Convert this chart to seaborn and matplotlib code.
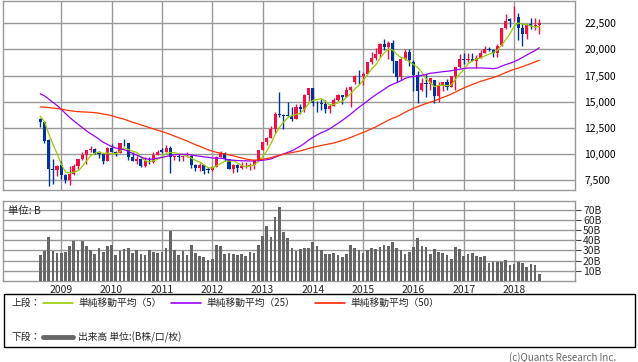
import numpy as np
import pandas as pd
import matplotlib
matplotlib.use("Agg")
import matplotlib.pyplot as plt
import seaborn as sns
from matplotlib.patches import Rectangle
from matplotlib.lines import Line2D

# 月足 2008/08 - 2018/07
months = pd.date_range("2008-08-01", "2018-07-01", freq="MS")

opens = [13376, 13073, 11368, 8576, 8512,
         8991, 7994, 7568, 8110, 8828, 9523, 9958, 10357, 10493, 10133, 10035, 9346,
         10546, 10198, 10126, 11090, 11057, 9768, 9383, 9537, 8824, 9369, 9202, 9937,
         10352, 10238, 10624, 9755, 9850, 9694, 9816, 9833, 8955, 8700, 8988, 8600,
         8455, 8803, 9723, 10084, 9521, 8543, 9007, 8695, 8840, 8870, 8928, 9446,
         10395, 11139, 11559, 12398, 13861, 13775, 13677, 13668, 13389, 14456, 14328, 15662,
         16291, 14915, 14841, 14828, 14304, 14632, 15162, 15621, 15425, 16174, 16860, 17460,
         17451, 17674, 18798, 19207, 19520, 20563, 20236, 20585, 18890, 17388, 19083, 19747,
         18818, 17518, 16100, 16759, 16666, 17060, 15576, 16569, 16887, 16450, 17425, 18308,
         19114, 19041, 19119, 18909, 19197, 19700, 20033, 19925, 19646, 20400, 22012, 22917,
         23073, 23098, 22068, 21454, 22468, 22202, 22305]
highs = [13460, 13134, 11456, 9504, 8979,
         9325, 8114, 8843, 9090, 9547, 10170, 10357, 10767, 10544, 10343, 10083, 10639,
         10982, 10271, 11097, 11408, 11057, 10239, 9797, 9642, 9701, 9691, 10162, 10370,
         10620, 10891, 10754, 9850, 10017, 9868, 10207, 9885, 9067, 9152, 8988, 8748,
         8867, 9866, 10255, 10190, 9540, 9045, 9075, 9222, 9288, 9179, 9458, 10433,
         11164, 11662, 12650, 13999, 15942, 13796, 14953, 14466, 14817, 14808, 15750, 16320,
         16321, 15094, 15312, 15164, 14744, 15376, 15759, 15621, 16374, 16533, 17520, 18030,
         17850, 18826, 19778, 20133, 20655, 20953, 20850, 20947, 18900, 19174, 20012, 20012,
         18951, 17905, 17291, 17613, 17251, 17100, 16938, 16919, 17159, 17425, 18308, 19592,
         19615, 19668, 19668, 19445, 19961, 20318, 20223, 20080, 20481, 22012, 23382, 23000,
         24129, 23486, 22502, 22467, 23050, 23011, 22949]
lows = [12635, 11036, 6995, 7163, 7864,
        7671, 7265, 7055, 8023, 8541, 9487, 9050, 10190, 9976, 9674, 9076, 9346,
        10157, 9868, 10126, 10808, 9460, 9379, 9091, 8807, 8796, 9027, 9123, 9932,
        10100, 10238, 8227, 9441, 9351, 9318, 9740, 8656, 8359, 8343, 8135, 8160,
        8349, 8803, 9723, 9346, 8542, 8238, 8328, 8612, 8670, 8488, 8619, 9396,
        10380, 10880, 11496, 12003, 13556, 12415, 13614, 13188, 13377, 13853, 13992, 15082,
        14617, 13995, 14203, 13885, 13964, 14632, 15067, 14753, 15425, 14529, 16720, 16672,
        16592, 17674, 18575, 19034, 19283, 19990, 19116, 17714, 16901, 17112, 19023, 18412,
        16017, 14865, 16000, 15471, 16106, 14864, 14937, 16004, 16153, 16449, 16111, 18237,
        18650, 18805, 18909, 18224, 19196, 19651, 19844, 19280, 19240, 20356, 21972, 22119,
        22764, 20950, 20347, 21031, 21931, 21824, 21462]
closes = [13073, 11260, 8577, 8512, 8860,
          7994, 7568, 8110, 8828, 9523, 9958, 10357, 10493, 10133, 10035, 9346, 10546,
          10198, 10126, 11090, 11057, 9768, 9383, 9537, 8824, 9369, 9202, 9937, 10229,
          10238, 10624, 9755, 9850, 9694, 9816, 9833, 8955, 8700, 8988, 8435, 8455,
          8803, 9723, 10084, 9521, 8543, 9007, 8695, 8840, 8870, 8928, 9446, 10395,
          11139, 11559, 12398, 13861, 13775, 13677, 13668, 13389, 14456, 14328, 15662, 16291,
          14915, 14841, 14828, 14304, 14632, 15162, 15621, 15425, 16174, 16414, 17460, 17451,
          17674, 18798, 19207, 19520, 20563, 20236, 20585, 18890, 17388, 19083, 19747, 19034,
          17518, 16027, 16759, 16666, 17235, 15576, 16569, 16887, 16450, 17425, 18308, 19114,
          19041, 19119, 18909, 19197, 19651, 20033, 19925, 19646, 20356, 22012, 22725, 22765,
          23098, 22068, 21454, 22468, 22202, 22305, 22554]
# 移動平均用の過去の終値 2004/07 - 2008/07
prior_closes = [11326, 11082, 10824, 10771, 11031, 11489,
                11388, 11740, 11669, 11009, 11277, 11584, 11900, 12414, 13574, 13607, 14872, 16111,
                16650, 16205, 17060, 16907, 15467, 15505, 15457, 16141, 16128, 16399, 16274, 17226,
                17383, 17604, 17288, 17400, 17876, 18138, 17249, 16569, 16786, 16738, 15681, 15308,
                13592, 13603, 12526, 13850, 14338, 13481, 13377]
# 出来高 (B株)
volumes = [25, 29, 43, 29, 27, 27, 28, 34, 39, 30, 39, 34, 30, 26, 32, 28, 34, 35, 25, 29,
           31, 32, 27, 30, 26, 25, 30, 28, 27, 28, 32, 49, 30, 25, 29, 25, 35, 27, 24, 23,
           21, 22, 35, 34, 26, 27, 26, 25, 26, 24, 28, 27, 35, 44, 54, 43, 63, 73, 48, 42,
           32, 29, 31, 32, 32, 38, 34, 30, 26, 26, 27, 25, 23, 26, 35, 32, 30, 27, 30, 32,
           31, 33, 35, 34, 38, 32, 30, 26, 28, 33, 42, 34, 33, 26, 31, 28, 27, 25, 22, 33,
           31, 24, 26, 27, 24, 23, 24, 18, 19, 19, 19, 21, 16, 17, 19, 18, 14, 17, 16, 7]

price_ticks = [7500, 10000, 12500, 15000, 17500, 20000, 22500]
vol_ticks = [10, 20, 30, 40, 50, 60, 70]
years = list(range(2009, 2019))

UP = "#EE1144"
DOWN = "#003399"
MA_COLORS = {5: "#99CC00", 25: "#9900FF", 50: "#FF3300"}
GRID = "#999999"

sns.set_style("white")
plt.rcParams["font.family"] = ["Noto Sans CJK JP", "DejaVu Sans"]

n = len(closes)
idx = np.arange(n)
df = pd.DataFrame({"i": idx, "open": opens, "high": highs, "low": lows,
                   "close": closes, "volume": volumes})
all_close = pd.Series(prior_closes + closes)
for w in (5, 25, 50):
    df[f"ma{w}"] = all_close.rolling(w).mean().iloc[-n:].values

W, H = 638, 362
fig = plt.figure(figsize=(W / 100, H / 100), dpi=100)
ax = fig.add_axes([3.3 / W, 1 - 190 / H, (574.7 - 3.3) / W, 189.5 / H])
axv = fig.add_axes([3.3 / W, 1 - 280.7 / H, (574.7 - 3.3) / W, 79.7 / H])

xlim = (-8.82, 127.45)
year_pos = [(y - 2008) * 12 - 7 for y in years]

# ローソク足
up = df["close"] >= df["open"]
for mask, col in ((up, UP), (~up, DOWN)):
    d = df[mask]
    ax.vlines(d["i"], d["low"], d["high"], color=col, lw=1, zorder=3)
    body = (d["close"] - d["open"]).abs().clip(lower=40)
    ax.bar(d["i"], body, bottom=d[["open", "close"]].min(axis=1), width=0.75,
           color=col, linewidth=0, zorder=4)

for w in (5, 25, 50):
    sns.lineplot(data=df, x="i", y=f"ma{w}", ax=ax, color=MA_COLORS[w], lw=0.9, zorder=5)

ax.set_xlim(*xlim)
ax.set_ylim(6574, 24678)
ax.set_xticks(year_pos)
ax.set_yticks(price_ticks)
ax.set_yticklabels([f"{v:,}" for v in price_ticks])
ax.yaxis.tick_right()
ax.tick_params(axis="y", length=0, pad=7, labelsize=7.5, labelcolor="black")
ax.tick_params(axis="x", length=0, labelbottom=False)
ax.grid(True, color=GRID, lw=1)
ax.set_xlabel("")
ax.set_ylabel("")
for s in ax.spines.values():
    s.set_color(GRID)
    s.set_linewidth(1)

# 出来高
sns.barplot(data=df, x="i", y="volume", ax=axv, native_scale=True, color="#666666",
            width=0.64, saturation=1, linewidth=0, zorder=3)
axv.set_xlim(*xlim)
axv.set_ylim(0, 79)
axv.set_xticks(year_pos)
axv.set_xticklabels([str(y) for y in years])
axv.set_yticks(vol_ticks)
axv.set_yticklabels([f"{v}B" for v in vol_ticks])
axv.yaxis.tick_right()
axv.tick_params(axis="y", length=4, width=0.8, color="#444444", pad=2, labelsize=7.5)
axv.tick_params(axis="x", length=0, pad=3, labelsize=7.5)
axv.grid(True, color=GRID, lw=1)
axv.set_xlabel("")
axv.set_ylabel("")
for s in axv.spines.values():
    s.set_color(GRID)
    s.set_linewidth(1)
axv.text(5 / 571.4, 0.88, "単位: B", transform=axv.transAxes, fontsize=7.5,
         ha="left", va="center", zorder=6)

# 凡例
fy = lambda p: 1 - p / H
fig.patches.append(Rectangle((3.5 / W, fy(346.5)), 631.5 / W, 52.5 / H, transform=fig.transFigure,
                             fill=False, edgecolor="black", lw=1))
fig.text(12 / W, fy(303), "上段：", fontsize=7, va="center")
fig.text(12 / W, fy(337), "下段：", fontsize=7, va="center")
items = [(43, MA_COLORS[5], "単純移動平均（5）"), (171, MA_COLORS[25], "単純移動平均（25）"),
         (315, "#FF2200", "単純移動平均（50）")]
for x0, col, lab in items:
    fig.add_artist(Line2D([x0 / W, (x0 + 30) / W], [fy(303), fy(303)], color=col, lw=1.2))
    fig.text((x0 + 35) / W, fy(303), lab, fontsize=7, va="center")
fig.add_artist(Line2D([43 / W, 73 / W], [fy(337), fy(337)], color="#666666", lw=3.5))
fig.text(78 / W, fy(337), "出来高 単位:(B株/口/枚)", fontsize=7, va="center")
fig.text(616 / W, fy(357.5), "(c)Quants Research Inc.", fontsize=7, color="#666666",
         ha="right", va="center")

fig.savefig("out.png", dpi=100)
